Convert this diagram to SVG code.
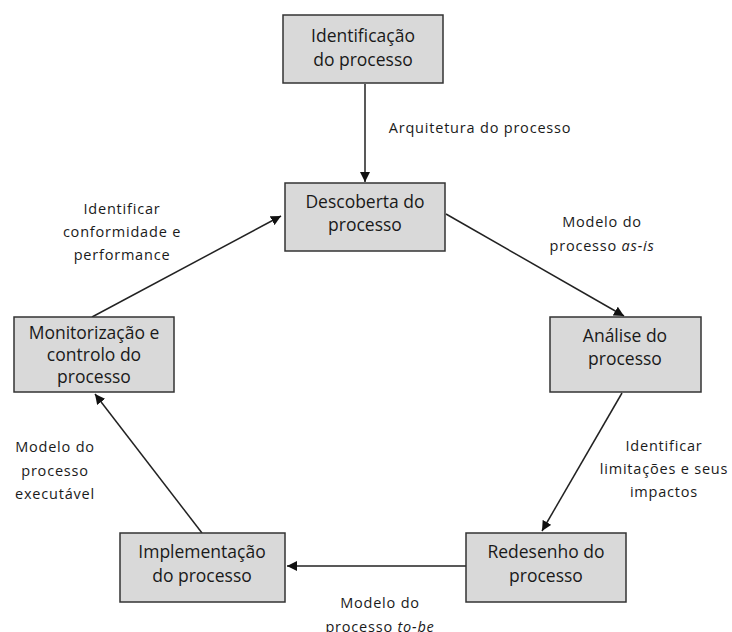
<svg xmlns="http://www.w3.org/2000/svg" width="732" height="632" viewBox="0 0 732 632">
  <style>
    .box { fill: #d9d9d9; stroke: #333333; stroke-width: 1.5; }
    .nt { font-family: "Open Sans", "Liberation Sans", sans-serif; font-size: 17.5px; fill: #1a1a1a; text-anchor: middle; }
    .lt { font-family: "Open Sans", "Liberation Sans", sans-serif; font-size: 14.5px; letter-spacing: 0.8px; fill: #1a1a1a; text-anchor: middle; }
    .edge { stroke: #222222; stroke-width: 1.5; fill: none; marker-end: url(#arrow); }
  </style>
  <defs>
    <marker id="arrow" viewBox="0 0 10 10" refX="10" refY="5" markerWidth="10" markerHeight="10" markerUnits="userSpaceOnUse" orient="auto">
      <path d="M0,0 L10,5 L0,10 Z" fill="#111111"/>
    </marker>
  </defs>
  <rect width="732" height="632" fill="#ffffff"/>

  <g id="connectors">
    <line class="edge" x1="365" y1="84" x2="365" y2="182"/>
    <line class="edge" x1="446" y1="214" x2="624" y2="316"/>
    <line class="edge" x1="622" y1="393" x2="542" y2="531"/>
    <line class="edge" x1="466" y1="566" x2="287" y2="566"/>
    <line class="edge" x1="202" y1="533" x2="95" y2="394"/>
    <line class="edge" x1="92" y1="317" x2="281" y2="216"/>
  </g>

  <g id="labels">
    <text class="lt" x="480" y="133">Arquitetura do processo</text>
    <text class="lt" x="122" y="214">Identificar</text>
    <text class="lt" x="122" y="237">conformidade e</text>
    <text class="lt" x="122" y="260">performance</text>
    <text class="lt" x="602" y="227">Modelo do</text>
    <text class="lt" x="602" y="251">processo <tspan font-style="italic">as-is</tspan></text>
    <text class="lt" x="664" y="451">Identificar</text>
    <text class="lt" x="664" y="474">limitações e seus</text>
    <text class="lt" x="664" y="497">impactos</text>
    <text class="lt" x="55" y="452">Modelo do</text>
    <text class="lt" x="55" y="476">processo</text>
    <text class="lt" x="55" y="499">executável</text>
    <text class="lt" x="380" y="608">Modelo do</text>
    <text class="lt" x="380" y="632">processo <tspan font-style="italic">to-be</tspan></text>
  </g>

  <g id="n-identificacao">
    <rect class="box" x="283" y="15" width="160" height="68"/>
    <text class="nt" x="363" y="42">Identificação</text>
    <text class="nt" x="363" y="66">do processo</text>
  </g>
  <g id="n-descoberta">
    <rect class="box" x="285" y="183" width="160" height="68"/>
    <text class="nt" x="365" y="208">Descoberta do</text>
    <text class="nt" x="365" y="231">processo</text>
  </g>
  <g id="n-analise">
    <rect class="box" x="550" y="317" width="151" height="75"/>
    <text class="nt" x="625" y="342">Análise do</text>
    <text class="nt" x="625" y="365">processo</text>
  </g>
  <g id="n-redesenho">
    <rect class="box" x="466" y="533" width="160" height="69"/>
    <text class="nt" x="546" y="558">Redesenho do</text>
    <text class="nt" x="546" y="582">processo</text>
  </g>
  <g id="n-implementacao">
    <rect class="box" x="120" y="533" width="165" height="69"/>
    <text class="nt" x="202" y="558">Implementação</text>
    <text class="nt" x="202" y="582">do processo</text>
  </g>
  <g id="n-monitorizacao">
    <rect class="box" x="14" y="317" width="160" height="75"/>
    <text class="nt" x="94" y="339">Monitorização e</text>
    <text class="nt" x="94" y="361">controlo do</text>
    <text class="nt" x="94" y="383">processo</text>
  </g>
</svg>
